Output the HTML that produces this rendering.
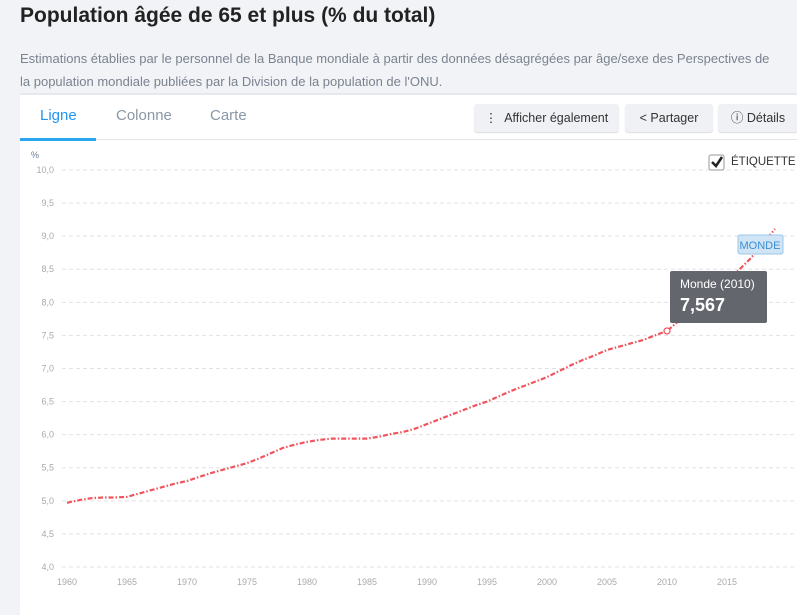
<!DOCTYPE html>
<html><head><meta charset="utf-8"><style>
body{margin:0;width:797px;height:605px;overflow:hidden;background:#f2f3f6;font-family:"Liberation Sans",sans-serif;position:relative}
.t{position:absolute;left:20px;top:4px;font-size:21px;font-weight:bold;color:#222;margin:0}
.d{position:absolute;left:20px;top:47px;font-size:13px;line-height:23px;color:#7a8390;white-space:nowrap}
.card{position:absolute;left:20px;top:93px;width:790px;height:520px;background:#fff;border-top:2px solid #e6e8eb}
.tab{position:absolute;top:12px;font-size:15px;color:#8a97a6}
.btn{position:absolute;top:9px;height:28px;background:#eff1f4;border-radius:3px;font-size:12.5px;color:#333;line-height:28px;padding:0 8px;box-sizing:border-box;box-shadow:0 1px 1px #ddd;white-space:nowrap;text-align:center}
</style></head><body>
<h1 class="t">Population âgée de 65 et plus (% du total)</h1>
<div class="d">Estimations établies par le personnel de la Banque mondiale à partir des données désagrégées par âge/sexe des Perspectives de<br>la population mondiale publiées par la Division de la population de l'ONU.</div>
<div class="card">
<div class="tab" style="left:20px;color:#2196f3">Ligne</div>
<div class="tab" style="left:96px">Colonne</div>
<div class="tab" style="left:190px">Carte</div>
<div style="position:absolute;left:0;top:44px;width:777px;height:1px;background:#e4e6e9"></div>
<div style="position:absolute;left:0;top:43px;width:76px;height:3px;background:#2aa5f0"></div>
<div class="btn" style="left:454px;width:145px">⋮ &nbsp;Afficher également</div>
<div class="btn" style="left:605px;width:88px">&lt; Partager</div>
<div class="btn" style="left:698px;width:80px">ⓘ Détails</div>
</div>
<svg id="c" width="797" height="605" style="position:absolute;left:0;top:0"></svg>
<script>
const years=[];for(let y=1960;y<=2019;y++)years.push(y);
const values=[4.97,5.01,5.04,5.05,5.05,5.06,5.11,5.16,5.21,5.26,5.30,5.36,5.42,5.47,5.52,5.57,5.64,5.72,5.80,5.85,5.89,5.92,5.94,5.94,5.94,5.94,5.97,6.01,6.04,6.09,6.16,6.23,6.30,6.37,6.44,6.50,6.58,6.66,6.73,6.80,6.87,6.96,7.05,7.13,7.20,7.28,7.33,7.38,7.43,7.50,7.567,7.72,7.88,8.02,8.17,8.32,8.49,8.67,8.88,9.11];
const yTicks=[4,4.5,5,5.5,6,6.5,7,7.5,8,8.5,9,9.5,10];
const xTicks=[1960,1965,1970,1975,1980,1985,1990,1995,2000,2005,2010,2015];
const svg=document.getElementById('c'),NS='http://www.w3.org/2000/svg';
const X=y=>67+(y-1960)*12, Y=v=>567-(v-4)*66.17;
function el(t,a,txt){const e=document.createElementNS(NS,t);for(const k in a)e.setAttribute(k,a[k]);if(txt!=null)e.textContent=txt;svg.appendChild(e);return e;}
const fmt=v=>v.toFixed(1).replace('.',',');
const u=el('text',{x:31,y:158,'font-size':9,fill:'#6b7a90'},'%');


yTicks.forEach(v=>{
 const g=el('line',{x1:62,x2:797,y1:Y(v),y2:Y(v),stroke:'#e2e2e2','stroke-dasharray':'4,3'});
 
 
 const t=el('text',{x:54,y:Y(v)+3,'font-size':9,fill:'#aaa','text-anchor':'end'},fmt(v));
 
 
});
xTicks.forEach(yr=>{
 const t=el('text',{x:X(yr),y:585,'font-size':9,fill:'#aaa','text-anchor':'middle'},String(yr));
 
 
});
const p=el('path',{d:years.map((y,i)=>(i?'L':'M')+X(y)+','+Y(values[i])).join(''),fill:'none',stroke:'#f0555f','stroke-width':2.2,'stroke-dasharray':'5,2,1.5,2'});


const hi=years.indexOf(2010);
const m=el('circle',{cx:X(2010),cy:Y(values[hi]),r:3,fill:'#fff',stroke:'#f0555f','stroke-width':1.2});


const lb=el('rect',{x:738,y:235,width:45,height:19,fill:'#cfe4f5',stroke:'#9cc7ea',rx:2});


const lt=el('text',{x:760,y:249,'font-size':11,fill:'#3b8ed6','text-anchor':'middle'},'MONDE');


const tb=el('rect',{x:670,y:271,width:97,height:52,fill:'#63666d',rx:2});


const t1=el('text',{x:680,y:288,'font-size':12,fill:'#fff'},'Monde (2010)');


const t2=el('text',{x:680,y:311,'font-size':18,'font-weight':'bold',fill:'#fff'},values[hi].toFixed(3).replace('.',','));


const cb=el('rect',{x:709,y:155,width:15,height:15,fill:'#fff',stroke:'#999',rx:2});


const ck=el('path',{d:'M712,162 L716,166 L722,157',fill:'none',stroke:'#222','stroke-width':2.5});


const ct=el('text',{x:731,y:165,'font-size':11.5,fill:'#333'},'ÉTIQUETTE');


</script>
</body></html>
